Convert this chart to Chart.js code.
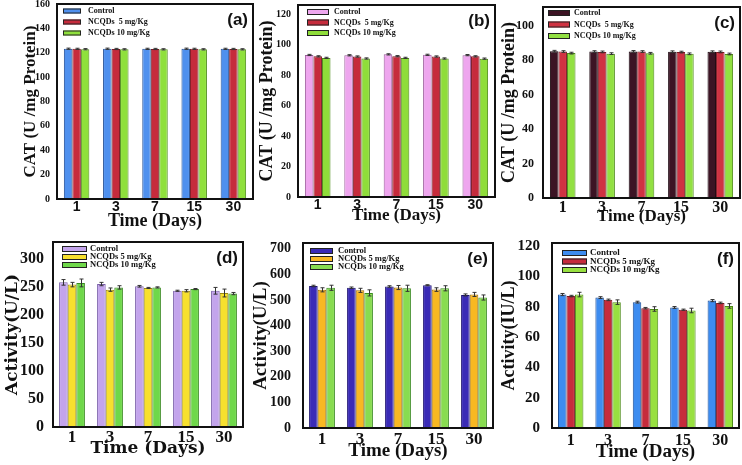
<!DOCTYPE html>
<html>
<head>
<meta charset="utf-8">
<script src="https://cdn.jsdelivr.net/npm/chart.js@4.4.1/dist/chart.umd.min.js"></script>
<style>
html, body { margin: 0; padding: 0; background: #fff; }
#wrap { position: relative; width: 742px; height: 465px; overflow: hidden; }
#wrap canvas { position: absolute; }
</style>
</head>
<body>
<div id="wrap"></div>
<script>
const days = ['1', '3', '7', '15', '30'];
const seriesTop = ['Control', 'NCQDs  5 mg/Kg', 'NCQDs 10 mg/Kg'];
const seriesBottom = ['Control', 'NCQDs 5 mg/Kg', 'NCQDs 10 mg/Kg'];

// (a) CAT
const catA_control = [123.3, 123.3, 123.2, 123.3, 123.2];
const catA_5mg = [123.2, 123.1, 123.1, 123.2, 123.1];
const catA_10mg = [122.9, 122.8, 122.8, 122.8, 122.8];
const catA_err = [0.5, 0.5, 0.5];
const ticksA = [0, 20, 40, 60, 80, 100, 120, 140, 160];

// (b) CAT
const catB_control = [93.2, 93.0, 93.6, 93.3, 93.1];
const catB_5mg = [92.3, 92.2, 92.4, 92.2, 92.3];
const catB_10mg = [91.3, 90.9, 91.3, 90.9, 90.8];
const catB_err = [0.4, 0.4, 0.4];
const ticksB = [0, 20, 40, 60, 80, 100, 120];

// (c) CAT
const catC_control = [85.3, 85.1, 85.2, 85.0, 85.0];
const catC_5mg = [85.1, 84.9, 85.1, 84.8, 84.9];
const catC_10mg = [84.2, 83.9, 84.1, 83.8, 83.7];
const catC_err = [0.5, 0.5, 0.5];
const ticksC = [0, 20, 40, 60, 80, 100];

// (d) Activity U/L
const actD_control = [258, 255, 251, 243, 243];
const actD_5mg = [254, 245, 248, 243, 239];
const actD_10mg = [257, 249, 249, 246, 238];
const actD_errControl = [5, 3, 1.5, 1, 6];
const actD_err5mg = [4, 3, 1, 2, 7];
const actD_err10mg = [7, 3, 1, 1, 2];
const ticksD = [0, 50, 100, 150, 200, 250, 300];

// (e) Activity U/L
const actE_control = [555, 548, 553, 558, 520];
const actE_5mg = [540, 538, 549, 541, 522];
const actE_10mg = [548, 528, 546, 546, 510];
const actE_errControl = [3, 3, 3, 2, 4];
const actE_err5mg = [8, 8, 8, 7, 8];
const actE_err10mg = [10, 12, 12, 10, 10];
const ticksE = [0, 100, 200, 300, 400, 500, 600, 700];

// (f) Activity IU/L
const actF_control = [88, 86, 83, 79.5, 84];
const actF_5mg = [87, 84.5, 79, 78, 82.5];
const actF_10mg = [88, 83, 78.5, 77.5, 80.5];
const actF_errControl = [0.7, 0.6, 0.6, 0.6, 0.7];
const actF_err5mg = [0.5, 0.5, 0.5, 0.4, 0.5];
const actF_err10mg = [1.5, 1.5, 1.5, 1.5, 1.5];
const ticksF = [0, 20, 40, 60, 80, 100, 120];

const same = (e) => days.map(() => e);

// error bars drawn through the y scale
const errorBars = {
    id: 'errorBars',
    afterDatasetsDraw(chart) {
        const ctx = chart.ctx, ys = chart.scales.y;
        ctx.save();
        ctx.strokeStyle = '#333';
        ctx.lineWidth = 1;
        chart.data.datasets.forEach((ds, i) => {
            chart.getDatasetMeta(i).data.forEach((bar, j) => {
                const v = ds.data[j], e = ds.errors[j];
                const x = Math.round(bar.x) + 0.5;
                const y1 = ys.getPixelForValue(v + e), y2 = ys.getPixelForValue(v - e);
                ctx.beginPath();
                ctx.moveTo(x, y1); ctx.lineTo(x, y2);
                ctx.moveTo(x - 2, y1); ctx.lineTo(x + 2, y1);
                ctx.moveTo(x - 2, y2); ctx.lineTo(x + 2, y2);
                ctx.stroke();
            });
        });
        ctx.restore();
    }
};

// black frame + panel letter + legend inside the plot
const frameAndLegend = {
    id: 'frameAndLegend',
    afterDraw(chart, args, opts) {
        const ctx = chart.ctx, a = chart.chartArea;
        ctx.save();
        ctx.strokeStyle = '#111';
        ctx.lineWidth = 2;
        ctx.strokeRect(a.left, a.top, a.right - a.left, a.bottom - a.top);

        ctx.fillStyle = '#111';
        ctx.font = 'bold 17px "Liberation Sans"';
        ctx.textAlign = 'right';
        ctx.textBaseline = 'top';
        ctx.fillText(opts.letter, a.right - 5, a.top + 8);

        const lg = opts.legend;
        ctx.font = 'bold ' + lg.font + 'px "Liberation Serif"';
        ctx.textAlign = 'left';
        ctx.textBaseline = 'middle';
        chart.data.datasets.forEach((ds, i) => {
            const x = a.left + lg.x, cy = a.top + lg.y + i * lg.row;
            ctx.fillStyle = ds.backgroundColor;
            ctx.fillRect(x, cy - lg.boxH / 2, lg.boxW, lg.boxH);
            ctx.lineWidth = 1;
            ctx.strokeStyle = '#222';
            ctx.strokeRect(x + 0.5, cy - lg.boxH / 2 + 0.5, lg.boxW - 1, lg.boxH - 1);
            ctx.fillStyle = '#111';
            ctx.fillText(ds.label, x + lg.boxW + lg.gap, cy);
        });
        ctx.restore();
    }
};

function panel(p) {
    const cv = document.createElement('canvas');
    cv.width = p.box[2];
    cv.height = p.box[3];
    cv.style.left = p.box[0] + 'px';
    cv.style.top = p.box[1] + 'px';
    document.getElementById('wrap').appendChild(cv);

    new Chart(cv.getContext('2d'), {
        type: 'bar',
        data: {
            labels: days,
            datasets: p.series.map((s, i) => ({
                label: p.names[i],
                data: s,
                errors: p.errors[i],
                backgroundColor: p.colors[i],
                borderColor: p.borders[i],
                borderWidth: 1,
                barPercentage: 1.0,
                categoryPercentage: p.catPct
            }))
        },
        options: {
            responsive: false,
            animation: false,
            events: [],
            layout: { padding: { top: p.padTop, right: p.padRight, left: 0, bottom: 0 } },
            plugins: {
                legend: { display: false },
                tooltip: { enabled: false },
                frameAndLegend: { letter: p.letter, legend: p.legend }
            },
            scales: {
                x: {
                    grid: { display: false, drawTicks: false, tickLength: 0 },
                    border: { display: false },
                    ticks: { color: '#111', padding: p.xTickPad, font: p.xTickFont },
                    title: {
                        display: true, text: 'Time (Days)', color: '#111',
                        font: p.xTitleFont, padding: { top: 0, bottom: p.xTitlePad }
                    },
                    afterFit: (s) => {
                        s.height = p.xH;
                        s.paddingLeft = 0;
                        s.paddingRight = 0;
                    }
                },
                y: {
                    min: 0,
                    max: p.yMax,
                    grid: { display: false, drawTicks: false, tickLength: 0 },
                    border: { display: false },
                    afterBuildTicks: (s) => { s.ticks = p.yTicks.map(v => ({ value: v })); },
                    ticks: { color: '#111', padding: p.yTickPad, font: p.yTickFont },
                    title: {
                        display: true, text: p.yTitle, color: '#111',
                        font: p.yTitleFont, padding: { top: p.yTitlePad, bottom: 0 }
                    },
                    afterFit: (s) => {
                        s.width = p.yW;
                        s.paddingTop = 0;
                        s.paddingBottom = 0;
                    }
                }
            }
        },
        plugins: [errorBars, frameAndLegend]
    });
}

const serif = (size) => ({ family: '"Liberation Serif"', size: size, weight: 'bold' });
const sans = (size) => ({ family: '"Liberation Sans"', size: size, weight: 'bold' });
const dejavu = (size) => ({ family: '"DejaVu Serif"', size: size, weight: 'bold' });

const red = '#c62b3c', redB = '#7a1520';

panel({
    box: [0, 0, 255, 232], yW: 57, xH: 33, padTop: 4, padRight: 2,
    series: [catA_control, catA_5mg, catA_10mg],
    errors: catA_err.map(same),
    names: seriesTop,
    colors: ['#4f90ee', red, '#8fe03c'], borders: ['#234f95', redB, '#4d8a18'],
    catPct: 0.65, yMax: 160, yTicks: ticksA, letter: '(a)',
    yTitle: 'CAT (U /mg Protein)', yTitleFont: serif(17), yTitlePad: 20,
    yTickFont: serif(10), yTickPad: 7,
    xTickFont: sans(14), xTickPad: 0, xTitleFont: serif(18), xTitlePad: 0,
    legend: { x: 6, y: 7, row: 11, boxW: 18, boxH: 5, gap: 7, font: 8 }
});

panel({
    box: [255, 0, 242, 232], yW: 43, xH: 35, padTop: 5, padRight: 2,
    series: [catB_control, catB_5mg, catB_10mg],
    errors: catB_err.map(same),
    names: seriesTop,
    colors: ['#eea6ee', red, '#8fdd3a'], borders: ['#9a5c9a', redB, '#4d8a18'],
    catPct: 0.65, yMax: 126, yTicks: ticksB, letter: '(b)',
    yTitle: 'CAT (U /mg Protein)', yTitleFont: serif(18), yTitlePad: 2,
    yTickFont: serif(10), yTickPad: 7,
    xTickFont: sans(14), xTickPad: 0, xTitleFont: serif(17), xTitlePad: 6,
    legend: { x: 9, y: 7, row: 10.5, boxW: 22, boxH: 6, gap: 5, font: 8 }
});

panel({
    box: [497, 0, 245, 232], yW: 46, xH: 34, padTop: 7, padRight: 2,
    series: [catC_control, catC_5mg, catC_10mg],
    errors: catC_err.map(same),
    names: seriesTop,
    colors: ['#3c1424', '#d03242', '#92e042'], borders: ['#1a060e', redB, '#4d8a18'],
    catPct: 0.65, yMax: 111, yTicks: ticksC, letter: '(c)',
    yTitle: 'CAT (U /mg Protein)', yTitleFont: serif(18), yTitlePad: 2,
    yTickFont: serif(12), yTickPad: 9,
    xTickFont: serif(16), xTickPad: 0, xTitleFont: serif(17), xTitlePad: 5,
    legend: { x: 5, y: 6, row: 11.5, boxW: 22, boxH: 6, gap: 4, font: 8 }
});

panel({
    box: [0, 232, 250, 233], yW: 53, xH: 38, padTop: 10, padRight: 7,
    series: [actD_control, actD_5mg, actD_10mg],
    errors: [actD_errControl, actD_err5mg, actD_err10mg],
    names: seriesBottom,
    colors: ['#c3a4ec', '#f7e02e', '#6fd84a'], borders: ['#7a5ea8', '#9a8a10', '#3a8a20'],
    catPct: 0.68, yMax: 330, yTicks: ticksD, letter: '(d)',
    yTitle: 'Activity(U/L)', yTitleFont: dejavu(17), yTitlePad: 2,
    yTickFont: serif(16), yTickPad: 9,
    xTickFont: serif(17), xTickPad: 0, xTitleFont: dejavu(17), xTitlePad: 6,
    legend: { x: 9, y: 7, row: 8, boxW: 25, boxH: 6, gap: 3, font: 8.5 }
});

panel({
    box: [250, 232, 245, 233], yW: 53, xH: 37, padTop: 11, padRight: 2,
    series: [actE_control, actE_5mg, actE_10mg],
    errors: [actE_errControl, actE_err5mg, actE_err10mg],
    names: seriesBottom,
    colors: ['#3a2bb6', '#f8b822', '#88dc50'], borders: ['#1a1070', '#9a6a08', '#3a8a20'],
    catPct: 0.68, yMax: 723, yTicks: ticksE, letter: '(e)',
    yTitle: 'Activity(U/L)', yTitleFont: serif(19), yTitlePad: 0,
    yTickFont: serif(14), yTickPad: 12,
    xTickFont: serif(17), xTickPad: 1, xTitleFont: serif(19), xTitlePad: 3,
    legend: { x: 7, y: 8, row: 8, boxW: 23, boxH: 6, gap: 5, font: 8.5 }
});

panel({
    box: [495, 232, 247, 233], yW: 57, xH: 37, padTop: 11, padRight: 3,
    series: [actF_control, actF_5mg, actF_10mg],
    errors: [actF_errControl, actF_err5mg, actF_err10mg],
    names: seriesBottom,
    colors: ['#3d8cf0', red, '#98e040'], borders: ['#1d4e95', redB, '#4d8a18'],
    catPct: 0.68, yMax: 122, yTicks: ticksF, letter: '(f)',
    yTitle: 'Activity(IU/L)', yTitleFont: serif(18), yTitlePad: 4,
    yTickFont: serif(15), yTickPad: 12,
    xTickFont: serif(16), xTickPad: 3, xTitleFont: serif(19), xTitlePad: 2,
    legend: { x: 10, y: 10, row: 8.5, boxW: 25, boxH: 6, gap: 3, font: 9 }
});
</script>
</body>
</html>
